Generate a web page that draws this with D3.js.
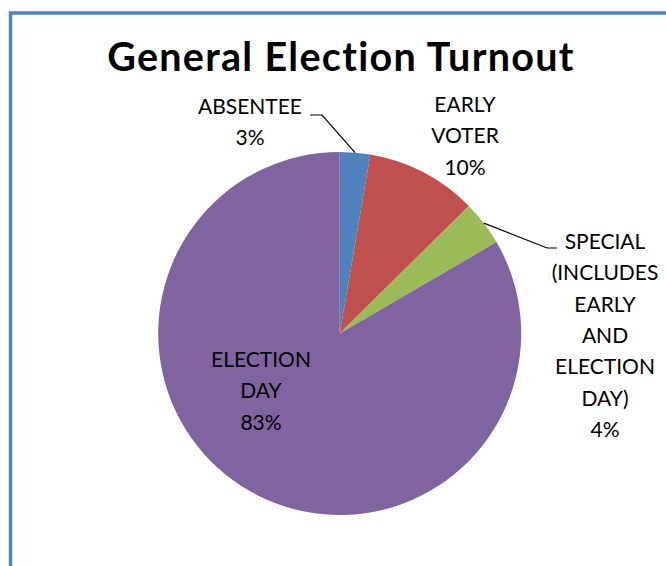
<!DOCTYPE html>
<html>
<head>
<meta charset="utf-8">
<script src="https://cdn.jsdelivr.net/npm/d3@7"></script>
<style>
  html, body { margin: 0; padding: 0; background: #fff; }
  svg { display: block; }
</style>
</head>
<body>
<svg id="chart" width="666" height="566"></svg>
<script>
// Turnout shares by voting method
const categories = ["ABSENTEE", "EARLY VOTER", "SPECIAL (INCLUDES EARLY AND ELECTION DAY)", "ELECTION DAY"];
const values = [2.7, 9.9, 4.0, 83.4];
const labelLines = [
  ["ABSENTEE"],
  ["EARLY", "VOTER"],
  ["SPECIAL", "(INCLUDES", "EARLY", "AND", "ELECTION", "DAY)"],
  ["ELECTION", "DAY"]
];
const colors = ["#4F81BD", "#C0504D", "#9BBB59", "#8064A2"];

const width = 666, height = 566;
const cx = 339.7, cy = 333.5, radius = 181.5;
const fontFamily = "Lato, 'Open Sans', 'DejaVu Sans', sans-serif";

// Label anchor (centre x, first baseline) and optional leader elbow per slice
const labelLayout = [
  { x: 250, y: 114, leader: [[322, 115], [310, 115]] },
  { x: 465, y: 112, leader: null },
  { x: 605, y: 249, leader: [[547, 248], [557, 248]] },
  { x: 261, y: 367, leader: null }
];
const lineHeight = 31.3;

const svg = d3.select("#chart");

// Chart frame (top and left edges visible)
svg.append("path")
  .attr("d", `M10.5,${height} V13 H${width}`)
  .attr("fill", "none")
  .attr("stroke", "#4F81BD")
  .attr("stroke-width", 3.5);

// Title
svg.append("text")
  .attr("x", 341)
  .attr("y", 71)
  .attr("text-anchor", "middle")
  .attr("font-family", fontFamily)
  .attr("font-weight", "bold")
  .attr("font-size", 39.5)
  .attr("letter-spacing", 1.3)
  .attr("fill", "#000")
  .text("General Election Turnout");

const total = d3.sum(values);
const pie = d3.pie().sort(null).value(d => d);
const arcs = pie(values);
const arc = d3.arc().innerRadius(0).outerRadius(radius);
const edgeArc = d3.arc().innerRadius(radius).outerRadius(radius);

const g = svg.append("g").attr("transform", `translate(${cx},${cy})`);

g.selectAll("path.slice")
  .data(arcs)
  .join("path")
  .attr("class", "slice")
  .attr("d", arc)
  .attr("fill", (d, i) => colors[i]);

// Leader lines from slice edge to label
arcs.forEach((d, i) => {
  const lay = labelLayout[i];
  if (!lay.leader) return;
  const [ex, ey] = edgeArc.centroid(d);
  const pts = [[cx + ex, cy + ey], ...lay.leader];
  svg.append("path")
    .attr("d", d3.line()(pts))
    .attr("fill", "none")
    .attr("stroke", "#000")
    .attr("stroke-width", 1.2);
});

// Data labels: category name lines plus percentage
arcs.forEach((d, i) => {
  const lay = labelLayout[i];
  const lines = [...labelLines[i], Math.round(values[i] / total * 100) + "%"];
  const t = svg.append("text")
    .attr("text-anchor", "middle")
    .attr("font-family", fontFamily)
    .attr("font-size", 21)
    .attr("fill", "#000");
  lines.forEach((ln, k) => {
    t.append("tspan")
      .attr("x", lay.x)
      .attr("y", lay.y + k * lineHeight)
      .text(ln);
  });
});
</script>
</body>
</html>
